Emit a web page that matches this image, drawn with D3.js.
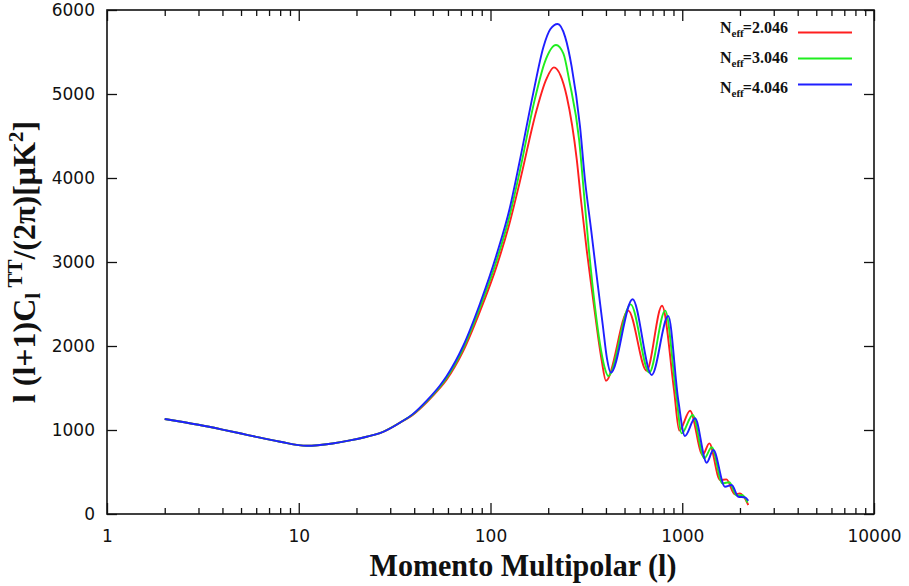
<!DOCTYPE html>
<html>
<head>
<meta charset="utf-8">
<script src="https://cdn.jsdelivr.net/npm/d3@7"></script>
<style>
  body { margin: 0; background: #fff; }
</style>
</head>
<body>
<div id="chart"></div>
<script>
// ---------------------------------------------------------------------
// data: [multipole l, l(l+1)C_l/2pi in uK^2]
// ---------------------------------------------------------------------
const x_major = [1, 10, 100, 1000, 10000];
const x_labels = ["1", "10", "100", "1000", "10000"];
const y_major = [0, 1000, 2000, 3000, 4000, 5000, 6000];
const neff_labels = ["2.046", "3.046", "4.046"];
const neff_colors = ["#ff1f1f", "#1fee1f", "#1f1fff"];

// the three spectra coincide at low l
const low_l = [[2,1131],[3,1062],[4,1005],[5,958],[6,918],[8,860],[11,812],[15,840],
               [18.5,876],[22.6,920],[26.5,962],[33.7,1087]];

const neff_2046 = low_l.concat([[39.6,1185],[46.5,1330],[54.5,1500],[59,1600],[72,1940],[88,2410],
  [108,2960],[126,3470],[142,3950],[174,4810],[195,5170],[214,5317],[232,5220],[250,4968],
  [282,4214],[297,3720],[318,3130],[340,2620],[362,2150],[380,1830],[400,1587],[523,2421],
  [652,1706],[784,2480],[906,1476],[965,992],[1098,1230],[1278,702],[1384,841],[1574,405],
  [1700,412],[1880,235],[2000,245],[2211,107]]);

const neff_3046 = low_l.concat([[39.6,1190],[46.5,1340],[54.5,1515],[59,1620],[72,1970],[88,2455],
  [108,3030],[126,3555],[142,4075],[170,4930],[192,5380],[219.6,5583],[240,5480],[258,5150],
  [290,4450],[307,3820],[325,3180],[350,2480],[372,2030],[392,1760],[411.6,1643],[538,2496],
  [673,1683],[815,2421],[930,1420],[993,960],[1134,1179],[1303,663],[1424,794],[1620,365],
  [1760,378],[1920,220],[2060,225],[2190,135]]);

const neff_4046 = low_l.concat([[39.6,1195],[46.5,1350],[54.5,1530],[59,1640],[72,2000],[88,2500],
  [108,3100],[126,3640],[142,4200],[167,5008],[189,5563],[205,5770],[224,5833],[245,5680],
  [265,5325],[293,4611],[311,3976],[335,3380],[360,2786],[385,2250],[405,1850],[424,1683],
  [551,2556],[693,1655],[845,2357],[953,1357],[1033,929],[1166,1139],[1341,611],[1452,762],
  [1671,325],[1811,345],[1960,206],[2124,198],[2211,158]]);

const series = [neff_2046, neff_3046, neff_4046];

// ---------------------------------------------------------------------
const W = 909, H = 586;
const plot = {left: 107, right: 874, top: 10, bottom: 514};

const svg = d3.select("#chart")
  .append("svg")
  .attr("width", W)
  .attr("height", H);

svg.append("rect").attr("width", W).attr("height", H).attr("fill", "#fff");

const x = d3.scaleLog()
  .domain([1, 10000])
  .range([plot.left, plot.right]);

const y = d3.scaleLinear()
  .domain([0, 6000])
  .range([plot.bottom, plot.top]);

// minor ticks 2..9 of every decade
const x_minor = [];
x_major.slice(0, -1).forEach(function(d) {
  for (let k = 2; k <= 9; k++) x_minor.push(d * k);
});

const tickFont = "'DejaVu Sans', sans-serif";

function styleAxis(g) {
  g.select(".domain").remove();
  g.selectAll(".tick line").attr("stroke", "#111").attr("stroke-width", 1.3);
  g.selectAll("text").style("font-family", tickFont).style("font-size", "17px").attr("fill", "#111");
}

// bottom axis
svg.append("g")
  .attr("transform", `translate(0, ${plot.bottom})`)
  .call(d3.axisBottom(x).tickValues(x_major).tickFormat((d, i) => x_labels[i])
        .tickSizeInner(-11).tickSizeOuter(0).tickPadding(16))
  .call(styleAxis);
svg.append("g")
  .attr("transform", `translate(0, ${plot.bottom})`)
  .call(d3.axisBottom(x).tickValues(x_minor).tickFormat("").tickSizeInner(-6).tickSizeOuter(0))
  .call(styleAxis);

// top axis (mirror)
svg.append("g")
  .attr("transform", `translate(0, ${plot.top})`)
  .call(d3.axisTop(x).tickValues(x_major).tickFormat("").tickSizeInner(-11).tickSizeOuter(0))
  .call(styleAxis);
svg.append("g")
  .attr("transform", `translate(0, ${plot.top})`)
  .call(d3.axisTop(x).tickValues(x_minor).tickFormat("").tickSizeInner(-6).tickSizeOuter(0))
  .call(styleAxis);

// left axis
svg.append("g")
  .attr("transform", `translate(${plot.left}, 0)`)
  .call(d3.axisLeft(y).tickValues(y_major).tickFormat(d3.format("d"))
        .tickSizeInner(-10).tickSizeOuter(0).tickPadding(12))
  .call(styleAxis);

// right axis (mirror)
svg.append("g")
  .attr("transform", `translate(${plot.right}, 0)`)
  .call(d3.axisRight(y).tickValues(y_major).tickFormat("").tickSizeInner(-10).tickSizeOuter(0))
  .call(styleAxis);

// frame
svg.append("rect")
  .attr("x", plot.left).attr("y", plot.top)
  .attr("width", plot.right - plot.left).attr("height", plot.bottom - plot.top)
  .attr("fill", "none").attr("stroke", "#111").attr("stroke-width", 1.6);

// curves
const line = d3.line()
  .x(d => x(d[0]))
  .y(d => y(d[1]))
  .curve(d3.curveMonotoneX);

svg.selectAll(".curve")
  .data(series)
  .join("path")
    .attr("class", "curve")
    .attr("fill", "none")
    .attr("stroke", (d, i) => neff_colors[i])
    .attr("stroke-width", 1.9)
    .attr("d", d => line(d));

// legend
const legTextY = [33, 63, 93];
const legLineY = [32.5, 58.5, 84.5];
const serif = "'Liberation Serif', 'Times New Roman', serif";

neff_labels.forEach(function(lab, i) {
  const t = svg.append("text")
    .attr("x", 720).attr("y", legTextY[i])
    .style("font-family", serif).style("font-weight", "bold").style("font-size", "16px")
    .attr("fill", "#111");
  t.append("tspan").text("N");
  t.append("tspan").attr("dy", 4).style("font-size", "11px").text("eff");
  t.append("tspan").attr("dy", -4).attr("dx", -1).text("=" + lab);

  svg.append("line")
    .attr("x1", 798).attr("x2", 852)
    .attr("y1", legLineY[i]).attr("y2", legLineY[i])
    .attr("stroke", neff_colors[i]).attr("stroke-width", 1.9);
});

// axis titles
svg.append("text")
  .attr("x", 523).attr("y", 576)
  .attr("text-anchor", "middle")
  .attr("textLength", 307).attr("lengthAdjust", "spacingAndGlyphs")
  .style("font-family", serif).style("font-weight", "bold").style("font-size", "32px")
  .attr("fill", "#111")
  .text("Momento Multipolar (l)");

const yt = svg.append("text")
  .attr("transform", "translate(35, 262) rotate(-90)")
  .attr("text-anchor", "middle")
  .style("font-family", serif).style("font-weight", "bold").style("font-size", "32px")
  .attr("fill", "#111");
yt.append("tspan").text("l (l+1)C");
yt.append("tspan").attr("dy", 5).style("font-size", "21px").text("l");
yt.append("tspan").attr("dy", -18).style("font-size", "21px").text("\u00a0TT");
yt.append("tspan").attr("dy", 13).text("/(2\u03c0)[\u03bcK");
yt.append("tspan").attr("dy", -12).style("font-size", "21px").text("2");
yt.append("tspan").attr("dy", 12).text("]");
</script>
</body>
</html>
